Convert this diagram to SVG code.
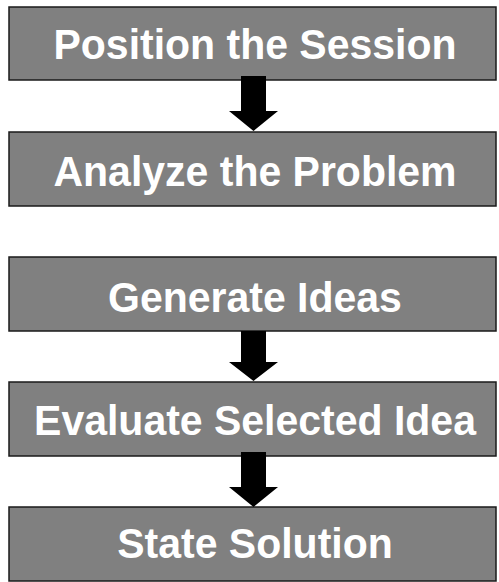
<svg xmlns="http://www.w3.org/2000/svg" width="499" height="582" viewBox="0 0 499 582">
  <defs>
    <style>
      .box { fill: #808080; stroke: #1a1a1a; stroke-width: 1.5; }
      .label { font-family: "Liberation Sans", Arial, sans-serif; font-weight: bold; font-size: 41px; fill: #ffffff; text-anchor: middle; }
      .arrow { fill: #000000; }
    </style>
  </defs>
  <rect width="499" height="582" fill="#ffffff"/>

  <g id="position-session">
    <rect class="box" x="9" y="7" width="487" height="73"/>
    <text class="label" transform="translate(255,58.5) scale(1,1.05)">Position the Session</text>
  </g>
  <g id="analyze-problem">
    <rect class="box" x="9" y="132" width="487" height="74"/>
    <text class="label" transform="translate(255,186) scale(1,1.05)">Analyze the Problem</text>
  </g>
  <g id="generate-ideas">
    <rect class="box" x="9" y="257" width="487" height="74"/>
    <text class="label" transform="translate(255,312) scale(1,1.05)">Generate Ideas</text>
  </g>
  <g id="evaluate-idea">
    <rect class="box" x="9" y="382" width="487" height="74"/>
    <text class="label" transform="translate(255,435) scale(1,1.05)">Evaluate Selected Idea</text>
  </g>
  <g id="state-solution">
    <rect class="box" x="9" y="507" width="487" height="74"/>
    <text class="label" transform="translate(255,558) scale(1,1.05)">State Solution</text>
  </g>

  <g id="connectors">
    <polygon class="arrow" points="241,76 266,76 266,111 278,111 253.5,131 229,111 241,111"/>
    <polygon class="arrow" points="241,331 266,331 266,362 278,362 253.5,381 229,362 241,362"/>
    <polygon class="arrow" points="241,452 266,452 266,487 278,487 253.5,507 229,487 241,487"/>
  </g>
</svg>
